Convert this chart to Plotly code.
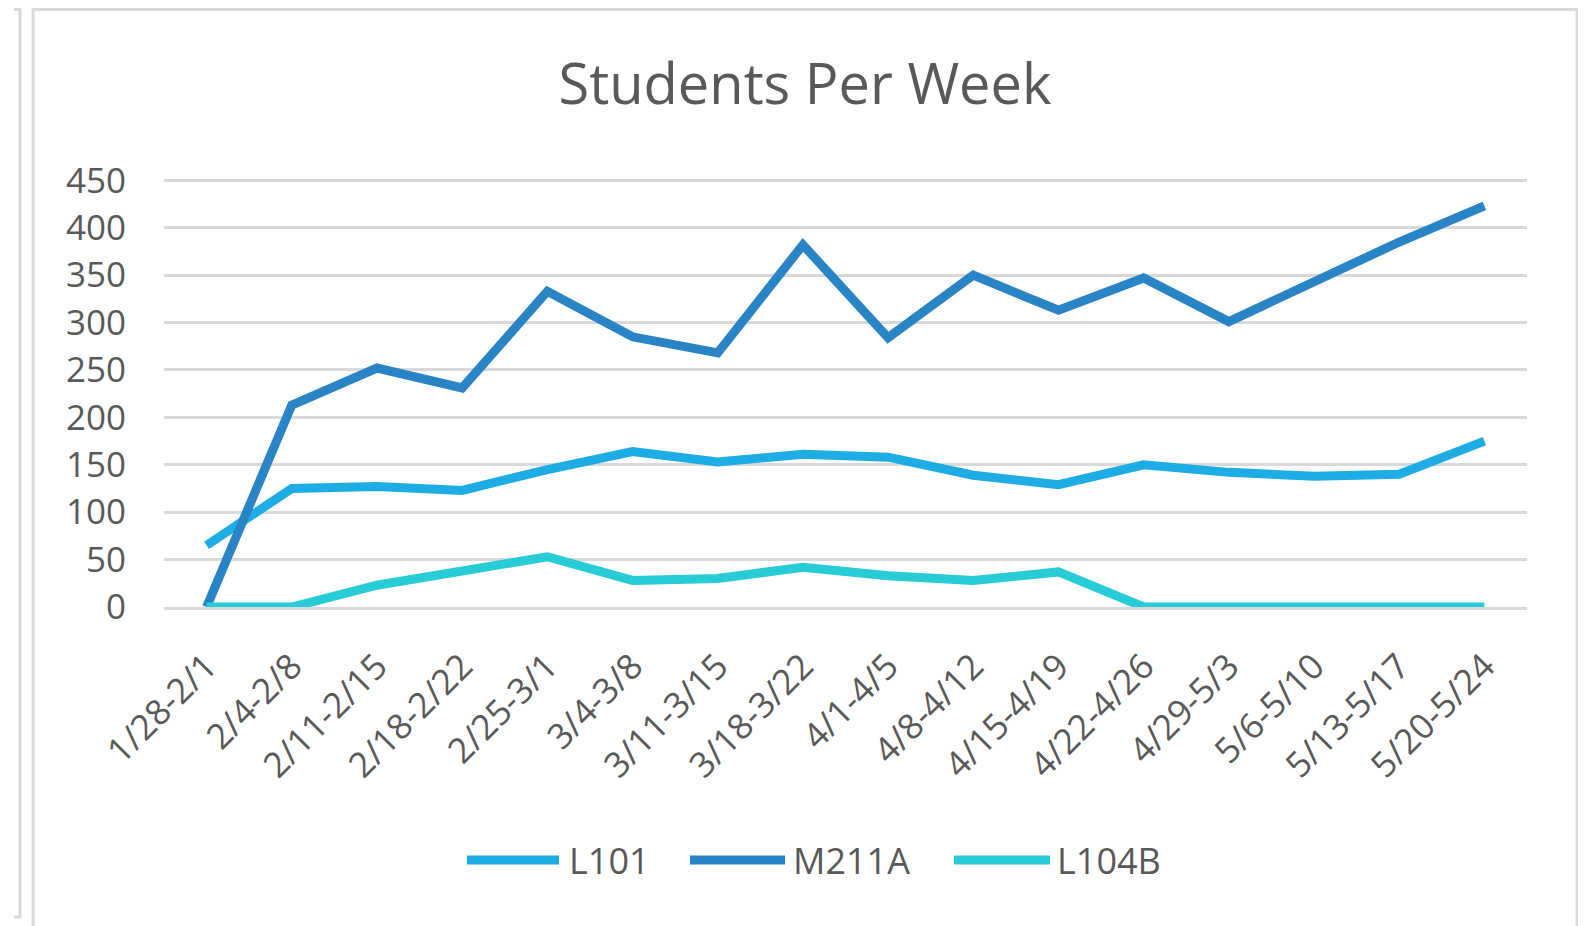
import plotly.graph_objects as go

weeks = ["1/28-2/1", "2/4-2/8", "2/11-2/15", "2/18-2/22", "2/25-3/1", "3/4-3/8",
         "3/11-3/15", "3/18-3/22", "4/1-4/5", "4/8-4/12", "4/15-4/19", "4/22-4/26",
         "4/29-5/3", "5/6-5/10", "5/13-5/17", "5/20-5/24"]
l101 = [65, 125, 127, 123, 145, 164, 153, 161, 158, 139, 129, 150, 142, 138, 140, 175]
m211a = [0, 213, 252, 231, 333, 285, 268, 382, 284, 350, 313, 347, 301, 343, 385, 423]
l104b = [0, 0, 23, 37, 53, 28, 30, 42, 33, 28, 37, 0, 0, 0, 0, 0]
y_ticks = [0, 50, 100, 150, 200, 250, 300, 350, 400, 450]
series_names = ["L101", "M211A", "L104B"]
series_values = [l101, m211a, l104b]
series_colors = ["#1DADE4", "#2984C6", "#27CCD6"]

# the page body has an 8px margin, so the figure is 8px smaller than the window
OFF = 8
W, H = 1586 - OFF, 926 - OFF
L, R, T, B = 156, 59, 170, 319
PW, PH = W - L - R, H - T - B


def fx(px):  # px in window pixels
    return (px - OFF - L) / PW


def fy(py):
    return (H - B - (py - OFF)) / PH


fig = go.Figure()
for name, vals, col in zip(series_names, series_values, series_colors):
    fig.add_trace(go.Scatter(x=weeks, y=vals, name=name, mode="lines",
                             line=dict(color=col, width=9), showlegend=False))

font_fam = "Open Sans, Segoe UI, sans-serif"
grey = "#595959"
frame = "#d9d9d9"

shapes = [
    dict(type="rect", xref="paper", yref="paper", x0=fx(33), x1=fx(1577), y0=fy(980), y1=fy(9.5),
         line=dict(color=frame, width=3), fillcolor="rgba(0,0,0,0)", layer="below"),
    dict(type="path", xref="paper", yref="paper",
         path=f"M{fx(14)},{fy(9.5)} L{fx(20)},{fy(9.5)} L{fx(20)},{fy(917)} L{fx(14)},{fy(917)}",
         line=dict(color=frame, width=3)),
]

# legend (drawn by hand to get the long line samples of the original)
legend_sample_x = [(467, 559), (690, 785), (954, 1050)]
legend_text_x = [567, 791, 1055]
legend_y = 860
annotations = []
for name, col, (a, b), tx in zip(series_names, series_colors, legend_sample_x, legend_text_x):
    shapes.append(dict(type="line", xref="paper", yref="paper", x0=fx(a), x1=fx(b),
                       y0=fy(legend_y), y1=fy(legend_y), line=dict(color=col, width=9)))
    annotations.append(dict(text=name, xref="paper", yref="paper", x=fx(tx), y=fy(legend_y),
                            xanchor="left", yanchor="middle", showarrow=False,
                            font=dict(family=font_fam, size=36, color=grey)))

fig.update_layout(
    width=W, height=H,
    margin=dict(l=L, r=R, t=T, b=B),
    paper_bgcolor="white", plot_bgcolor="white",
    title=dict(text="Students Per Week", x=(805 - OFF) / W, xref="container", xanchor="center",
               y=1 - (84 - OFF) / H, yref="container", yanchor="middle",
               font=dict(family=font_fam, size=56, color=grey)),
    xaxis=dict(type="category", range=[-0.5, 15.5], showgrid=False, zeroline=False,
               showline=True, linecolor=frame, linewidth=2.5,
               tickangle=-45, ticks="", ticklabelstandoff=22,
               tickfont=dict(family=font_fam, size=35, color=grey)),
    yaxis=dict(range=[0, 452.5], tickvals=y_ticks, showgrid=True, gridcolor=frame, gridwidth=2.5,
               zeroline=False, showline=False, ticks="", ticklabelstandoff=37,
               tickfont=dict(family=font_fam, size=35, color=grey)),
    shapes=shapes,
    annotations=annotations,
    showlegend=False,
)

fig.write_html("out.html")
